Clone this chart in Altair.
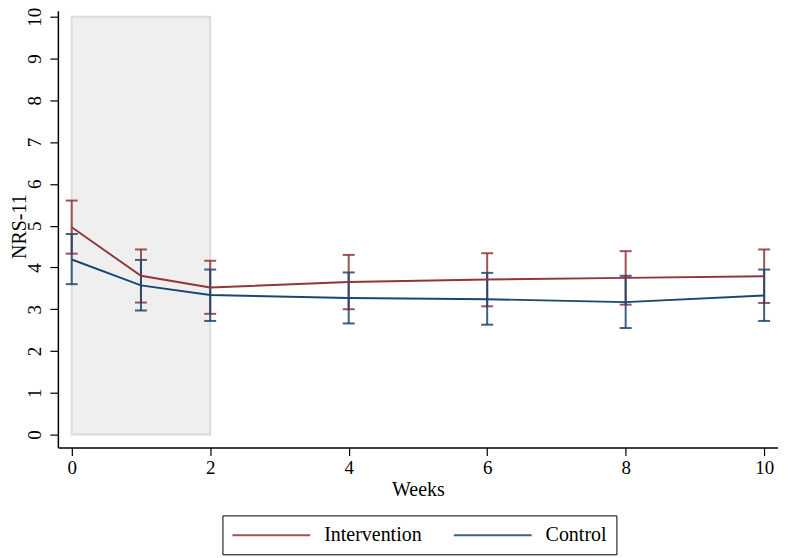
import altair as alt
import pandas as pd

weeks = [0, 1, 2, 4, 6, 8, 10]
int_mean = [4.96, 3.80, 3.52, 3.65, 3.71, 3.75, 3.79]
int_lo = [4.33, 3.16, 2.89, 3.00, 3.07, 3.11, 3.15]
int_hi = [5.60, 4.43, 4.16, 4.30, 4.34, 4.39, 4.43]
ctl_mean = [4.19, 3.57, 3.34, 3.27, 3.24, 3.17, 3.33]
ctl_lo = [3.60, 2.97, 2.72, 2.66, 2.63, 2.55, 2.72]
ctl_hi = [4.80, 4.18, 3.95, 3.88, 3.87, 3.80, 3.95]
groups = ["Intervention", "Control"]
colors = ["#90353b", "#1a476f"]
shade = {"x": [0], "x2": [2], "y": [0], "y2": [10]}
x_ticks = [0, 2, 4, 6, 8, 10]
y_ticks = list(range(0, 11))

rows = []
for g, m, lo, hi in [(groups[0], int_mean, int_lo, int_hi), (groups[1], ctl_mean, ctl_lo, ctl_hi)]:
    for w, a, b, c in zip(weeks, m, lo, hi):
        rows.append({"Weeks": w, "mean": a, "lo": b, "hi": c, "group": g})
df = pd.DataFrame(rows)
shade_df = pd.DataFrame(shade)

FONT = "Liberation Serif"
YTITLE = "NRS-11"
xscale = alt.Scale(domain=[-0.2, 10.2], nice=False, zero=False)
yscale = alt.Scale(domain=[-0.31, 10.143], nice=False, zero=False)
cscale = alt.Scale(domain=groups, range=colors)

xaxis = alt.Axis(values=x_ticks, format="d", title="Weeks", grid=False, tickSize=8, labelPadding=3,
                 titlePadding=2, labelFontSize=19, titleFontSize=20, titleFontWeight="normal",
                 labelFont=FONT, titleFont=FONT, domainColor="black", tickColor="black",
                 labelColor="black", titleColor="black", domainWidth=1.5, tickWidth=1.2)
yaxis = alt.Axis(values=y_ticks, format="d", title=YTITLE, grid=False, tickSize=8, labelAngle=270,
                 labelPadding=5, titleX=-48, titleY=216, titleAngle=270, titleBaseline="top",
                 titleAlign="center", labelFontSize=19, titleFontSize=20,
                 titleFontWeight="normal", labelFont=FONT, titleFont=FONT,
                 domainColor="black", tickColor="black", labelColor="black",
                 titleColor="black", domainWidth=1.5, tickWidth=1.2)

legend = alt.Legend(title=None, orient="none", direction="horizontal",
                    legendX=165, legendY=506, symbolType="M-1,0L6.8,0",
                    symbolSize=400, symbolStrokeWidth=2, labelOffset=71,
                    columnPadding=28, labelFont=FONT, labelFontSize=20,
                    labelColor="black", strokeColor="black", fillColor="white",
                    padding=9)

rect = alt.Chart(shade_df).mark_rect(fill="#efefef", stroke="#dcdcdc", strokeWidth=2).encode(
    x=alt.X("x:Q", scale=xscale, axis=xaxis),
    x2="x2:Q",
    y=alt.Y("y:Q", scale=yscale, axis=yaxis, title=YTITLE),
    y2="y2:Q",
)

bars = alt.Chart(df).mark_errorbar(ticks={"size": 12, "thickness": 2}, thickness=2, opacity=0.85).encode(
    x=alt.X("Weeks:Q", scale=xscale),
    y=alt.Y("lo:Q", scale=yscale, title=YTITLE),
    y2="hi:Q",
    color=alt.Color("group:N", scale=cscale, sort=groups, legend=legend),
)

lines = alt.Chart(df).mark_line(strokeWidth=1.9).encode(
    x=alt.X("Weeks:Q", scale=xscale),
    y=alt.Y("mean:Q", scale=yscale, title=YTITLE),
    color=alt.Color("group:N", scale=cscale, sort=groups, legend=legend),
)

chart = alt.layer(rect, bars, lines).properties(
    width=722, height=438,
    autosize=alt.AutoSizeParams(type="none"),
    padding={"left": 50, "top": 2, "right": 0, "bottom": 108},
).configure_view(stroke=None)

chart.save("out.html", embed_options={"renderer": "svg", "actions": False})
